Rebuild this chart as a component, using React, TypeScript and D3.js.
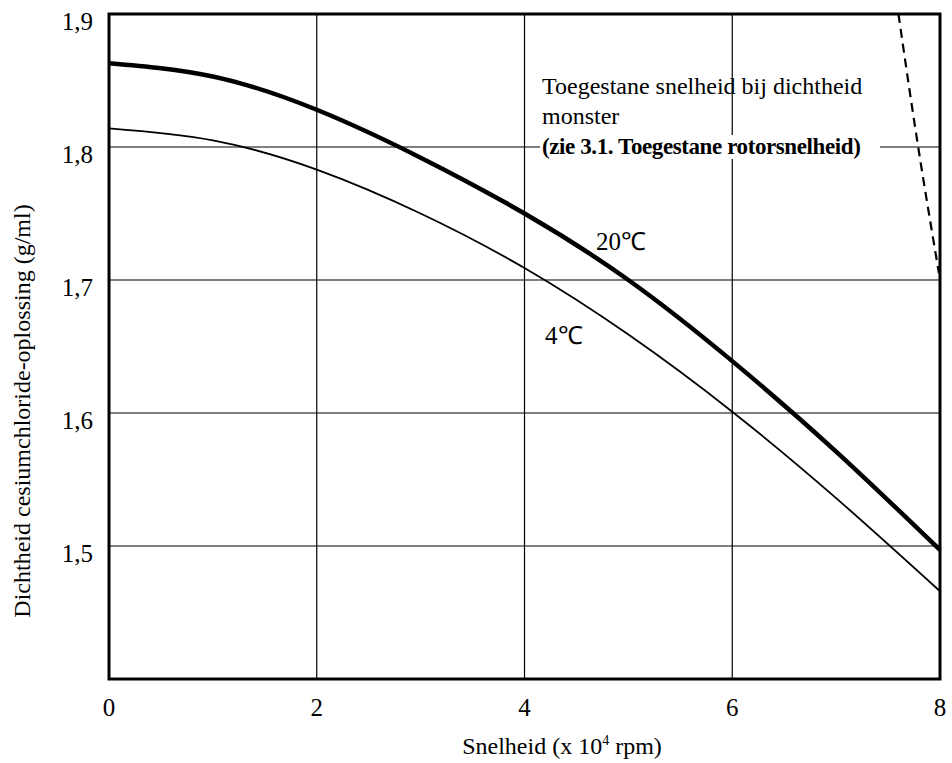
import { useEffect, useRef } from 'react';
import * as d3 from 'd3';

// speed (x 10^4 rpm)
const speeds = [0, 1, 2, 3, 4, 5, 6, 7, 8];
// CsCl density at 20 C (thick) and 4 C (thin)
const density20 = [1.863, 1.853, 1.828, 1.792, 1.75, 1.7, 1.639, 1.571, 1.497];
const density4 = [1.814, 1.805, 1.783, 1.75, 1.709, 1.659, 1.601, 1.536, 1.466];
// allowed speed limit curve (dashed)
const limitSpeeds = [7.6, 7.79, 7.99];
const limitDensity = [1.9, 1.8, 1.705];

const xTicks = [0, 2, 4, 6, 8];
const yTicks = [1.5, 1.6, 1.7, 1.8, 1.9];
const xGrid = [2, 4, 6];
const yGrid = [1.5, 1.6, 1.7, 1.8];

const FONT = '"Liberation Serif", "Times New Roman", serif';

const App = (): JSX.Element => {
  const svgRef = useRef<SVGSVGElement>(null);

  useEffect(() => {
    if (svgRef.current) {
      svgRef.current.innerHTML = '';
    }
    const width = 952;
    const height = 763;

    const x = d3.scaleLinear([0, 8], [109, 940]);
    const y = d3.scaleLinear([1.4, 1.9], [679, 14]);

    const svg = d3.select(svgRef.current).attr('width', width).attr('height', height).attr('viewBox', [0, 0, width, height]);

    svg.append('rect').attr('width', width).attr('height', height).attr('fill', '#fff');

    // grid
    svg
      .append('g')
      .selectAll('line')
      .data(yGrid)
      .join('line')
      .attr('x1', x(0))
      .attr('x2', x(8))
      .attr('y1', (d) => y(d))
      .attr('y2', (d) => y(d))
      .attr('stroke', '#000')
      .attr('stroke-width', 1.2);
    svg
      .append('g')
      .selectAll('line')
      .data(xGrid)
      .join('line')
      .attr('x1', (d) => x(d))
      .attr('x2', (d) => x(d))
      .attr('y1', y(1.4))
      .attr('y2', y(1.9))
      .attr('stroke', '#000')
      .attr('stroke-width', 1.2);

    // frame
    svg
      .append('rect')
      .attr('x', x(0))
      .attr('y', y(1.9))
      .attr('width', x(8) - x(0))
      .attr('height', y(1.4) - y(1.9))
      .attr('fill', 'none')
      .attr('stroke', '#000')
      .attr('stroke-width', 3);

    const line = d3
      .line<number>()
      .x((_, i) => x(speeds[i]))
      .y((d) => y(d))
      .curve(d3.curveNatural);

    svg.append('path').attr('d', line(density4)).attr('fill', 'none').attr('stroke', '#000').attr('stroke-width', 1.8);
    svg.append('path').attr('d', line(density20)).attr('fill', 'none').attr('stroke', '#000').attr('stroke-width', 4.5);

    const limitLine = d3
      .line<number>()
      .x((d) => x(d))
      .y((_, i) => y(limitDensity[i]))
      .curve(d3.curveMonotoneY);
    svg
      .append('path')
      .attr('d', limitLine(limitSpeeds))
      .attr('fill', 'none')
      .attr('stroke', '#000')
      .attr('stroke-width', 2.2)
      .attr('stroke-dasharray', '9,6');

    // tick labels
    svg
      .append('g')
      .selectAll('text')
      .data(xTicks)
      .join('text')
      .attr('x', (d) => x(d))
      .attr('y', 716)
      .attr('text-anchor', 'middle')
      .attr('font-family', FONT)
      .attr('font-size', 25)
      .text((d) => d);
    svg
      .append('g')
      .selectAll('text')
      .data(yTicks)
      .join('text')
      .attr('x', 93)
      .attr('y', (d) => y(d) + 16)
      .attr('text-anchor', 'end')
      .attr('font-family', FONT)
      .attr('font-size', 25)
      .text((d) => d3.format('.1f')(d).replace('.', ','));

    // axis titles
    const xt = svg
      .append('text')
      .attr('x', 562)
      .attr('y', 754)
      .attr('text-anchor', 'middle')
      .attr('font-family', FONT)
      .attr('font-size', 24);
    xt.append('tspan').text('Snelheid (x 10');
    xt.append('tspan').attr('font-size', 14).attr('dy', -9).text('4');
    xt.append('tspan').attr('dy', 9).text(' rpm)');

    svg
      .append('text')
      .attr('transform', `translate(30,411) rotate(-90)`)
      .attr('text-anchor', 'middle')
      .attr('font-family', FONT)
      .attr('font-size', 24)
      .text('Dichtheid cesiumchloride-oplossing (g/ml)');

    // curve labels
    svg.append('text').attr('x', 596).attr('y', 250).attr('font-family', FONT).attr('font-size', 25).text('20℃');
    svg.append('text').attr('x', 545).attr('y', 344).attr('font-family', FONT).attr('font-size', 25).text('4℃');

    // annotation
    const note = svg.append('g').attr('font-family', FONT).attr('font-size', 24);
    note.append('text').attr('x', 542).attr('y', 94).text('Toegestane snelheid bij dichtheid');
    note.append('text').attr('x', 542).attr('y', 124).text('monster');
    note.append('rect').attr('x', 540).attr('y', 135).attr('width', 340).attr('height', 24).attr('fill', '#fff');
    note
      .append('text')
      .attr('x', 542)
      .attr('y', 154)
      .attr('font-weight', 'bold')
      .attr('font-size', 23)
      .attr('letter-spacing', -0.4)
      .text('(zie 3.1. Toegestane rotorsnelheid)');
  }, []);

  return (
    <div style={{ position: 'absolute', left: 0, top: 0 }}>
      <svg ref={svgRef} style={{ display: 'block' }} />
    </div>
  );
};

export default App;
